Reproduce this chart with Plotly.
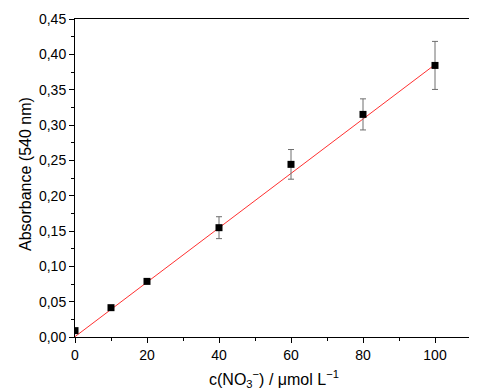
import plotly.graph_objects as go

conc = [0, 10, 20, 40, 60, 80, 100]
absorb = [0.009, 0.0415, 0.0787, 0.1547, 0.2443, 0.315, 0.3843]
err = [0, 0, 0, 0.0155, 0.021, 0.022, 0.034]
fit_x = [0, 100]
fit_y = [0.0005, 0.3855]

x_ticks = [0, 20, 40, 60, 80, 100]
y_ticks = [0.00, 0.05, 0.10, 0.15, 0.20, 0.25, 0.30, 0.35, 0.40, 0.45]

fig = go.Figure()
fig.add_trace(go.Scatter(
    x=fit_x, y=fit_y, mode="lines",
    line=dict(color="#ff3030", width=1),
    showlegend=False, hoverinfo="skip"))
fig.add_trace(go.Scatter(
    x=conc, y=absorb, mode="markers",
    marker=dict(symbol="square", size=7, color="black"),
    error_y=dict(type="data", array=err, visible=True, color="#6e6e6e", thickness=1, width=3),
    showlegend=False))

font = "Liberation Sans, Arial, sans-serif"
fig.update_layout(
    width=477, height=389,
    margin=dict(l=67, r=14, t=11, b=60),
    paper_bgcolor="white", plot_bgcolor="white",
    separators=", ",
    font=dict(family=font, size=14, color="black"),
    xaxis=dict(
        range=[0, 110], tickvals=x_ticks, ticks="outside", ticklen=5, tickwidth=1,
        tickcolor="black", showline=True, linecolor="black", linewidth=1, mirror=True,
        showgrid=False, zeroline=False, automargin=False,
        minor=dict(dtick=10, tick0=0, ticks="outside", ticklen=3, tickcolor="black", showgrid=False),
    ),
    yaxis=dict(
        range=[0, 0.45], tickvals=y_ticks, tickformat=".2f", ticks="outside", ticklen=5, tickwidth=1,
        tickcolor="black", showline=True, linecolor="black", linewidth=1, mirror=True,
        showgrid=False, zeroline=False, automargin=False,
        minor=dict(dtick=0.025, tick0=0, ticks="outside", ticklen=3, tickcolor="black", showgrid=False),
    ),
    annotations=[
        dict(text="Absorbance (540 nm)", xref="paper", yref="paper",
             x=-0.1237, y=0.5126, xanchor="center", yanchor="middle",
             textangle=-90, showarrow=False, font=dict(size=16)),
        dict(text="c(NO<sub>3</sub><sup>−</sup>) / μmol L<sup>−1</sup>", xref="paper", yref="paper",
             x=0.5025, y=-0.132, xanchor="center", yanchor="middle",
             showarrow=False, font=dict(size=16)),
    ],
)
fig.write_html("out.html")
